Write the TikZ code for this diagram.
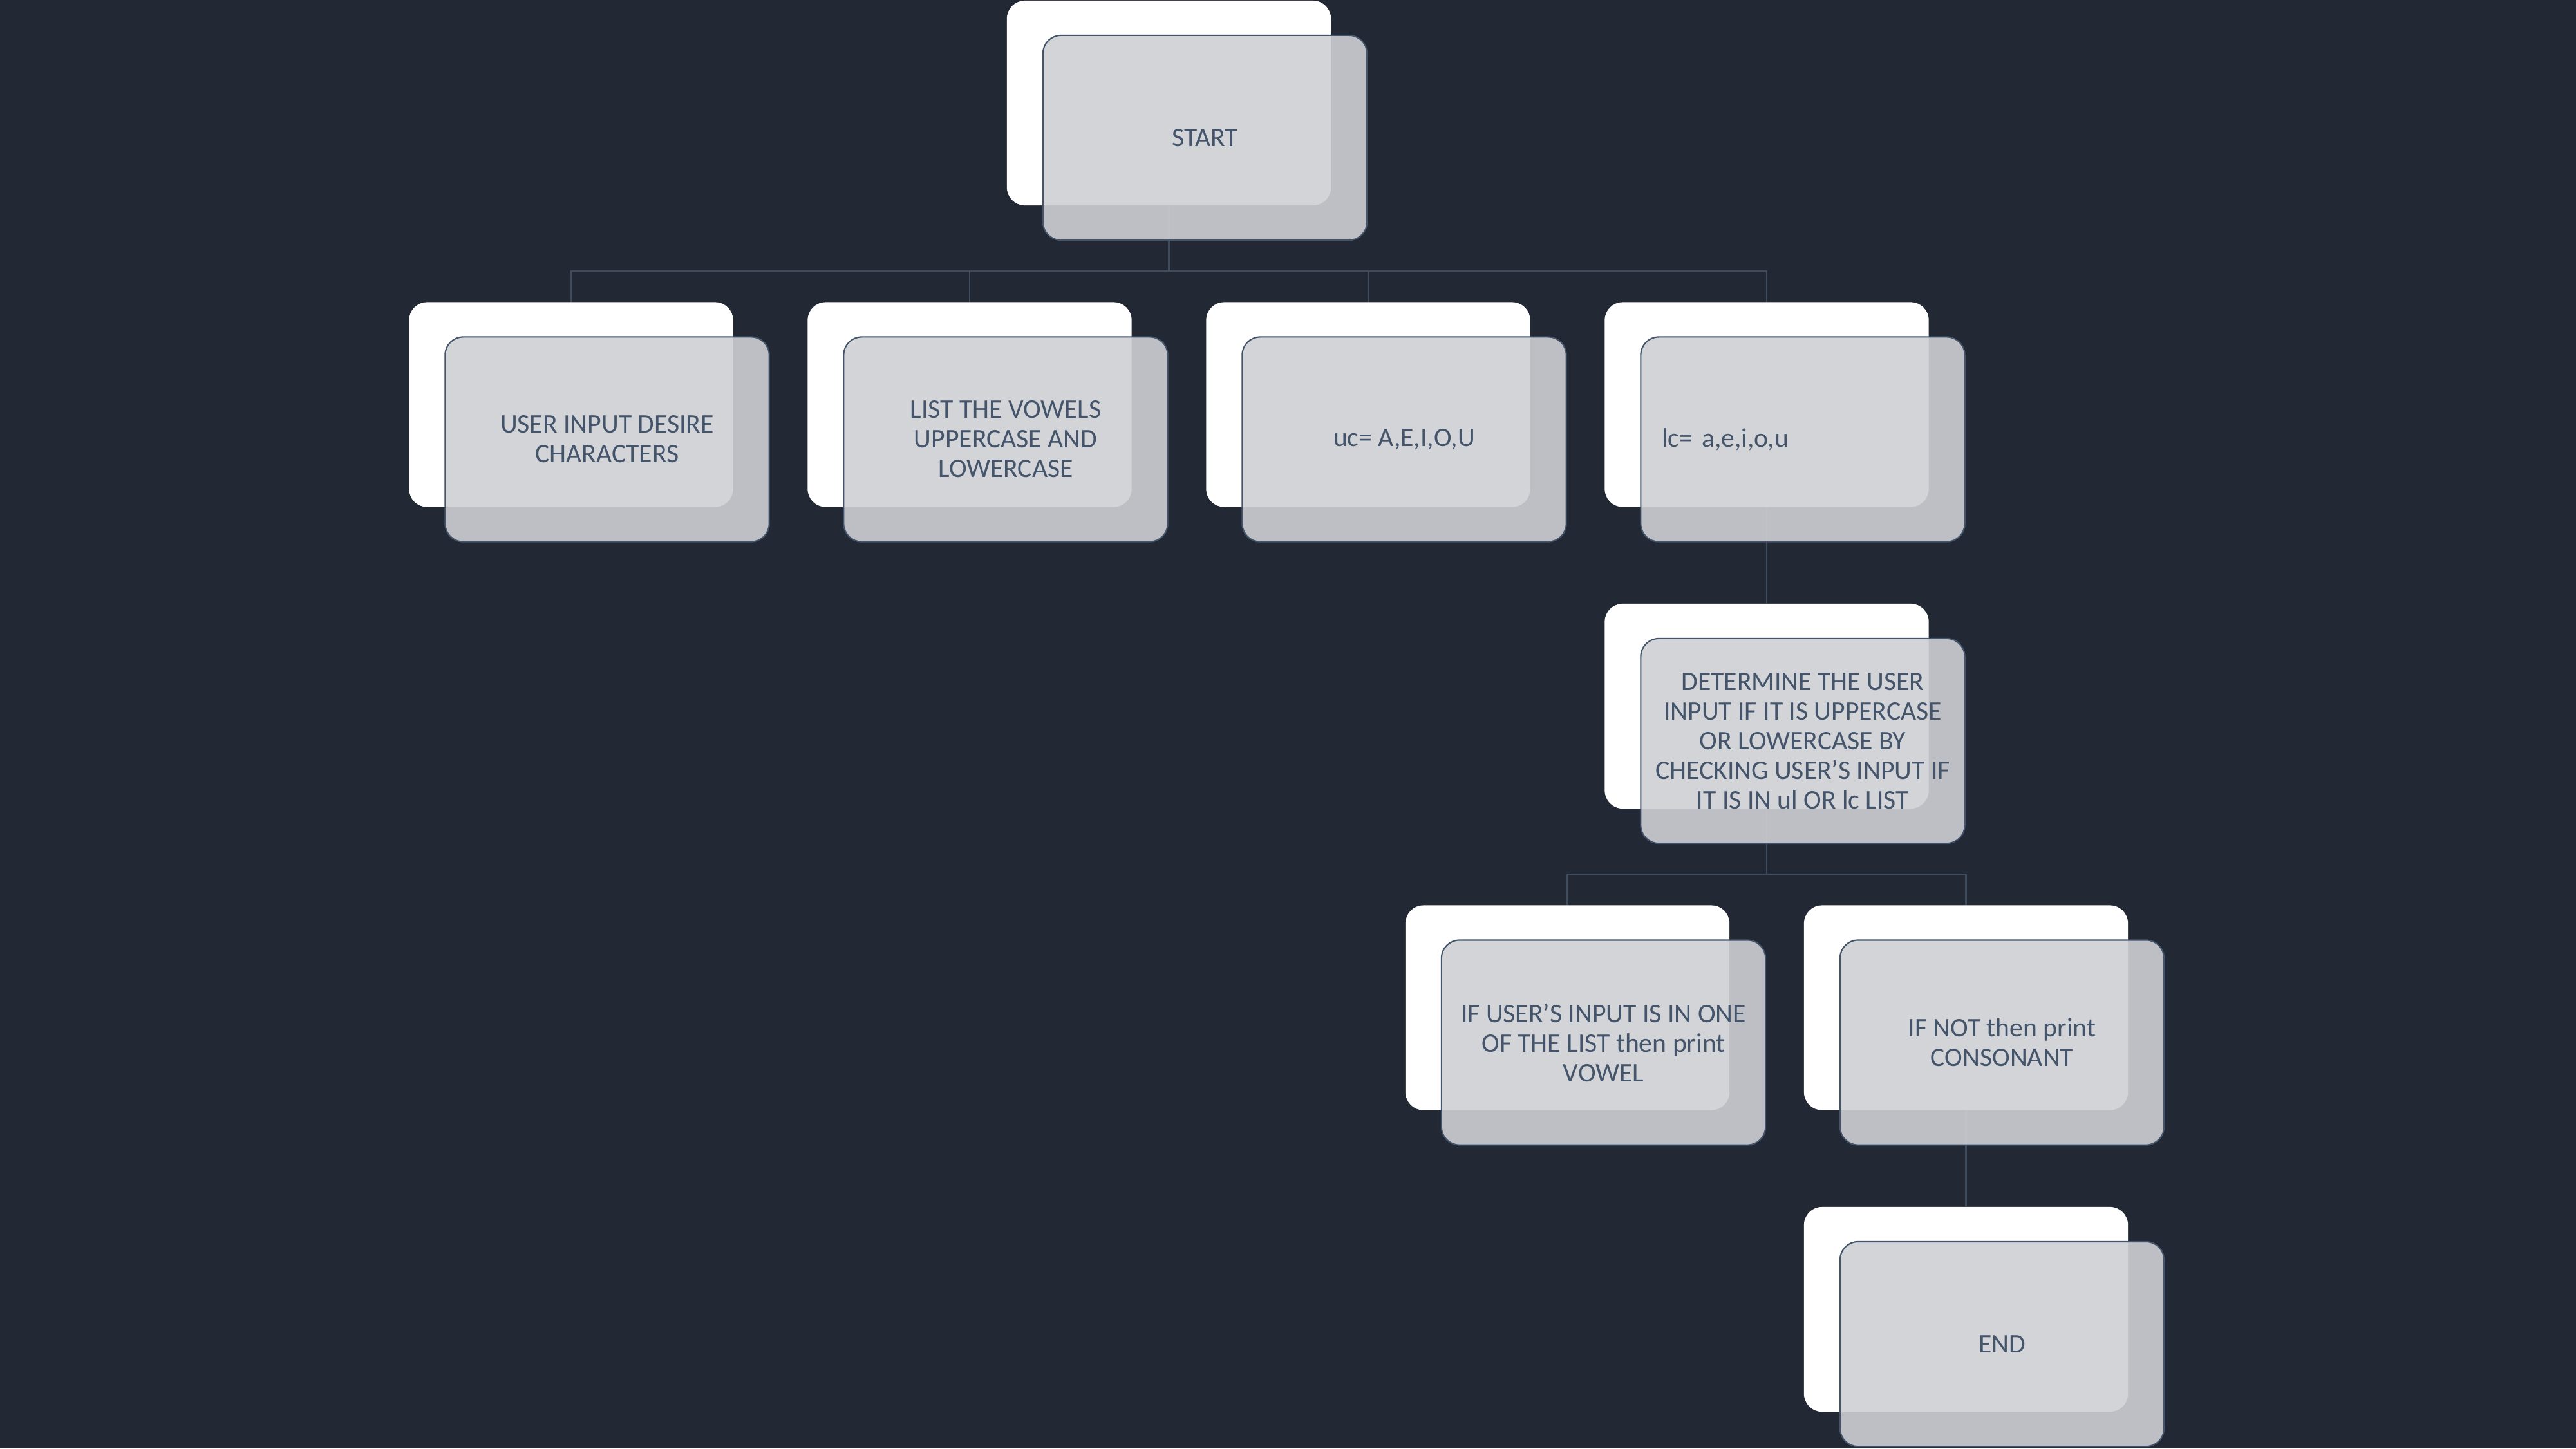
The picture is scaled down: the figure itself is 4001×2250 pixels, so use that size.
\documentclass[tikz,border=0pt]{standalone}
\usepackage{fontspec}
\setmainfont{Carlito}
\definecolor{bgcol}{HTML}{222834}
\definecolor{textblue}{HTML}{44546A}
\definecolor{cardgray}{HTML}{CED0D4}
\definecolor{linecol}{HTML}{3E4C5E}
\begin{document}
\begin{tikzpicture}[x=0.01cm,y=-0.01cm,
  backcard/.style={fill=white, draw=none, rounded corners=0.28cm, minimum width=5.03cm, minimum height=3.18cm, inner sep=0pt},
  frontcard/.style={fill=cardgray, fill opacity=0.9, text opacity=1, draw=textblue, line width=0.6pt, rounded corners=0.28cm, minimum width=5.03cm, minimum height=3.18cm, inner sep=0pt, text=textblue, font=\fontsize{11.85}{13.1}\selectfont, align=center},
  conn/.style={draw=linecol, line width=0.7pt}]
\fill[bgcol] (0,0) rectangle (4001,2250);
\useasboundingbox (0,0) rectangle (4001,2250);
% back cards
\node[backcard] (startB) at (1815.5,160) {};
\node[backcard] (c1B) at (887,628.5) {};
\node[backcard] (c2B) at (1506,628.5) {};
\node[backcard] (c3B) at (2125,628.5) {};
\node[backcard] (c4B) at (2744,628.5) {};
\node[backcard] (detB) at (2744,1097) {};
\node[backcard] (vowB) at (2434.5,1565.5) {};
\node[backcard] (conB) at (3053.5,1565.5) {};
\node[backcard] (endB) at (3053.5,2034) {};
% connectors
\coordinate (bus1) at (1815.5,421);
\coordinate (bus2) at (2744,1358);
\draw[conn] (startB.south) -- (bus1);
\draw[conn] (c1B.north) -- (c1B.north |- bus1) -- (c4B.north |- bus1) -- (c4B.north);
\draw[conn] (c2B.north) -- (c2B.north |- bus1);
\draw[conn] (c3B.north) -- (c3B.north |- bus1);
\draw[conn] (c4B.south) -- (detB.north);
\draw[conn] (detB.south) -- (bus2);
\draw[conn] (vowB.north) -- (vowB.north |- bus2) -- (conB.north |- bus2) -- (conB.north);
\draw[conn] (conB.south) -- (endB.north);
% front cards
\node[frontcard] (start) at ([shift={(56,54)}]startB.center) {START};
\node[frontcard] (c1) at ([shift={(56,54)}]c1B.center) {USER INPUT DESIRE\\CHARACTERS};
\node[frontcard] (c2) at ([shift={(56,54)}]c2B.center) {LIST THE VOWELS\\UPPERCASE AND\\LOWERCASE};
\node[frontcard] (c3) at ([shift={(56,54)}]c3B.center) {uc= A,E,I,O,U};
\node[frontcard, text width=4.37cm, inner xsep=0.33cm, align=left] (c4) at ([shift={(56,54)}]c4B.center) {lc= a,e,i,o,u};
\node[frontcard] (det) at ([shift={(56,54)}]detB.center) {DETERMINE THE USER\\INPUT IF IT IS UPPERCASE\\OR LOWERCASE BY\\CHECKING USER’S INPUT IF\\IT IS IN ul OR lc LIST};
\node[frontcard] (vow) at ([shift={(56,54)}]vowB.center) {IF USER’S INPUT IS IN ONE\\OF THE LIST then print\\VOWEL};
\node[frontcard] (con) at ([shift={(56,54)}]conB.center) {IF NOT then print\\CONSONANT};
\node[frontcard] (end) at ([shift={(56,54)}]endB.center) {END};
\end{tikzpicture}
\end{document}
